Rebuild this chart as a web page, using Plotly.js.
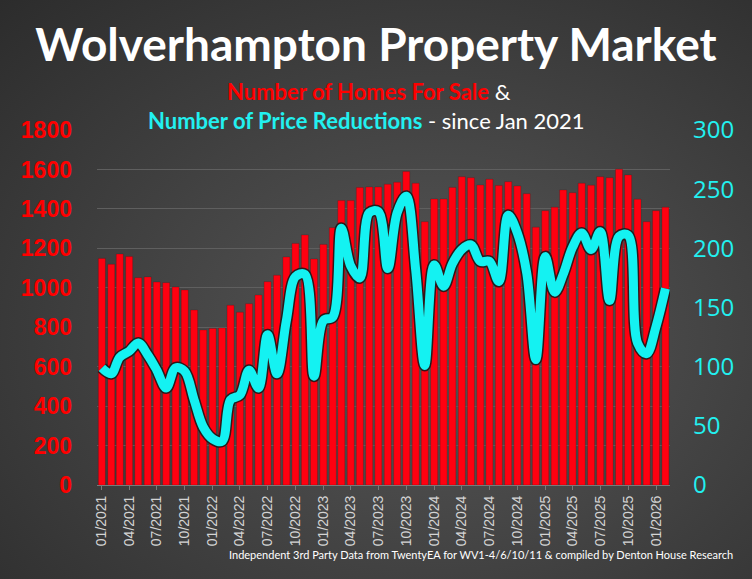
<!DOCTYPE html>
<html>
<head>
<meta charset="utf-8">
<script src="https://cdn.plot.ly/plotly-3.0.1.min.js"></script>
<style>
  html, body { margin: 0; padding: 0; }
  body {
    width: 752px; height: 579px; overflow: hidden;
    background: radial-gradient(ellipse at 58% 58%, #575757 0%, #444 45%, #2c2c2c 100%);
  }
  #chart { width: 752px; height: 579px; }
</style>
</head>
<body>
<div id="chart"></div>
<script>
// Wolverhampton - homes for sale (left axis) & price reductions (right axis), monthly from Jan 2021

const homesForSale = [
  1149, 1119, 1171, 1158, 1051, 1055, 1029, 1026, 1004, 989,
  887, 786, 794, 796, 911, 876, 919, 963, 1031, 1063,
  1156, 1225, 1268, 1146, 1220, 1305, 1442, 1442, 1508, 1511,
  1511, 1525, 1535, 1589, 1530, 1335, 1450, 1450, 1509, 1563,
  1558, 1521, 1550, 1518, 1538, 1516, 1477, 1307, 1391, 1408,
  1496, 1482, 1530, 1520, 1563, 1558, 1601, 1572, 1449, 1335,
  1391, 1408
];

const priceReductions = [
  99, 94, 108, 113, 120, 110, 97, 82, 99, 96,
  72, 49, 39, 37, 72, 76, 97, 82, 127, 94,
  139, 176, 178, 92, 139, 142, 217, 185, 175, 230,
  231, 183, 230, 244, 182, 101, 186, 168, 187, 199,
  203, 189, 189, 172, 228, 213, 179, 106, 193, 163,
  178, 201, 213, 199, 214, 156, 210, 211, 120, 111,
  134, 166
];

const leftTicks = [0, 200, 400, 600, 800, 1000, 1200, 1400, 1600, 1800];
const rightTicks = [0, 50, 100, 150, 200, 250, 300];

// month categories, first of each month starting 01/2021
const months = [];
for (let i = 0; i < homesForSale.length; i++) {
  const y = 2021 + Math.floor(i / 12);
  const m = (i % 12) + 1;
  months.push(y + "-" + String(m).padStart(2, "0") + "-01");
}

var bars = {
  x: months,
  y: homesForSale,
  type: "bar",
  name: "Number of Homes For Sale",
  marker: { color: "#ff0010", line: { color: "rgba(60,0,0,0.5)", width: 0.4 } },
  hoverinfo: "x+y",
};

// dark outline under the cyan line
var lineShadow = {
  x: months,
  y: priceReductions,
  yaxis: "y2",
  type: "scatter",
  mode: "lines",
  line: { color: "rgba(25,25,25,0.9)", width: 12, shape: "spline", smoothing: 1 },
  hoverinfo: "skip",
  showlegend: false,
};

var line = {
  x: months,
  y: priceReductions,
  yaxis: "y2",
  type: "scatter",
  mode: "lines",
  name: "Number of Price Reductions",
  line: { color: "#14f2f2", width: 9, shape: "spline", smoothing: 1 },
};

var layout = {
  width: 752,
  height: 579,
  paper_bgcolor: "rgba(0,0,0,0)",
  plot_bgcolor: "rgba(0,0,0,0)",
  showlegend: false,
  margin: { l: 97, r: 82, t: 130, b: 94 },
  bargap: 0.18,
  title: {
    text: "<b>Wolverhampton Property Market</b>",
    font: { family: "Lato", size: 46, color: "#ffffff" },
    x: 0.5,
    xanchor: "center",
    y: 0.922,
    yanchor: "middle",
  },
  xaxis: {
    type: "date",
    range: ["2020-12-16", "2026-02-16"],
    tick0: "2021-01-01",
    dtick: "M3",
    tickformat: "%m/%Y",
    tickangle: -90,
    tickfont: { family: "Liberation Sans", size: 14, color: "#d4d4d4" },
    showgrid: false,
    showline: true,
    linecolor: "#7a7a7a",
    ticks: "outside",
    ticklen: 4,
    tickcolor: "#7a7a7a",
    zeroline: false,
  },
  yaxis: {
    range: [0, 1800],
    tickvals: leftTicks,
    tickfont: { family: "Liberation Sans", size: 23, color: "#ff0000", weight: "bold" },
    gridcolor: "#5f5f5f",
    zeroline: false,
    ticklabelstandoff: 24,
  },
  yaxis2: {
    overlaying: "y",
    side: "right",
    range: [0, 300],
    tickvals: rightTicks,
    tickfont: { family: "Open Sans", size: 24, color: "#22f0f0" },
    showgrid: false,
    zeroline: false,
    ticklabelstandoff: 22,
  },
  annotations: [
    {
      xref: "paper", yref: "paper",
      x: 0.474, y: 1.108,
      xanchor: "center", yanchor: "middle",
      showarrow: false,
      text: "<b><span style='color:#ff0000'>Number of Homes For Sale</span></b> &",
      font: { family: "Lato", size: 22, color: "#ffffff" },
    },
    {
      xref: "paper", yref: "paper",
      x: 0.471, y: 1.027,
      xanchor: "center", yanchor: "middle",
      showarrow: false,
      text: "<b><span style='color:#22f0f0'>Number of Price Reductions</span></b> - since Jan 2021",
      font: { family: "Lato", size: 22, color: "#ffffff" },
    },
    {
      xref: "paper", yref: "paper",
      x: 1.114, y: -0.197,
      xanchor: "right", yanchor: "middle",
      showarrow: false,
      text: "Independent 3rd Party Data from TwentyEA for WV1-4/6/10/11 & compiled by Denton House Research",
      font: { family: "Lato", size: 11, color: "#ffffff" },
    },
  ],
};

Plotly.newPlot("chart", [bars, lineShadow, line], layout, { displayModeBar: false, staticPlot: true });
</script>
</body>
</html>
